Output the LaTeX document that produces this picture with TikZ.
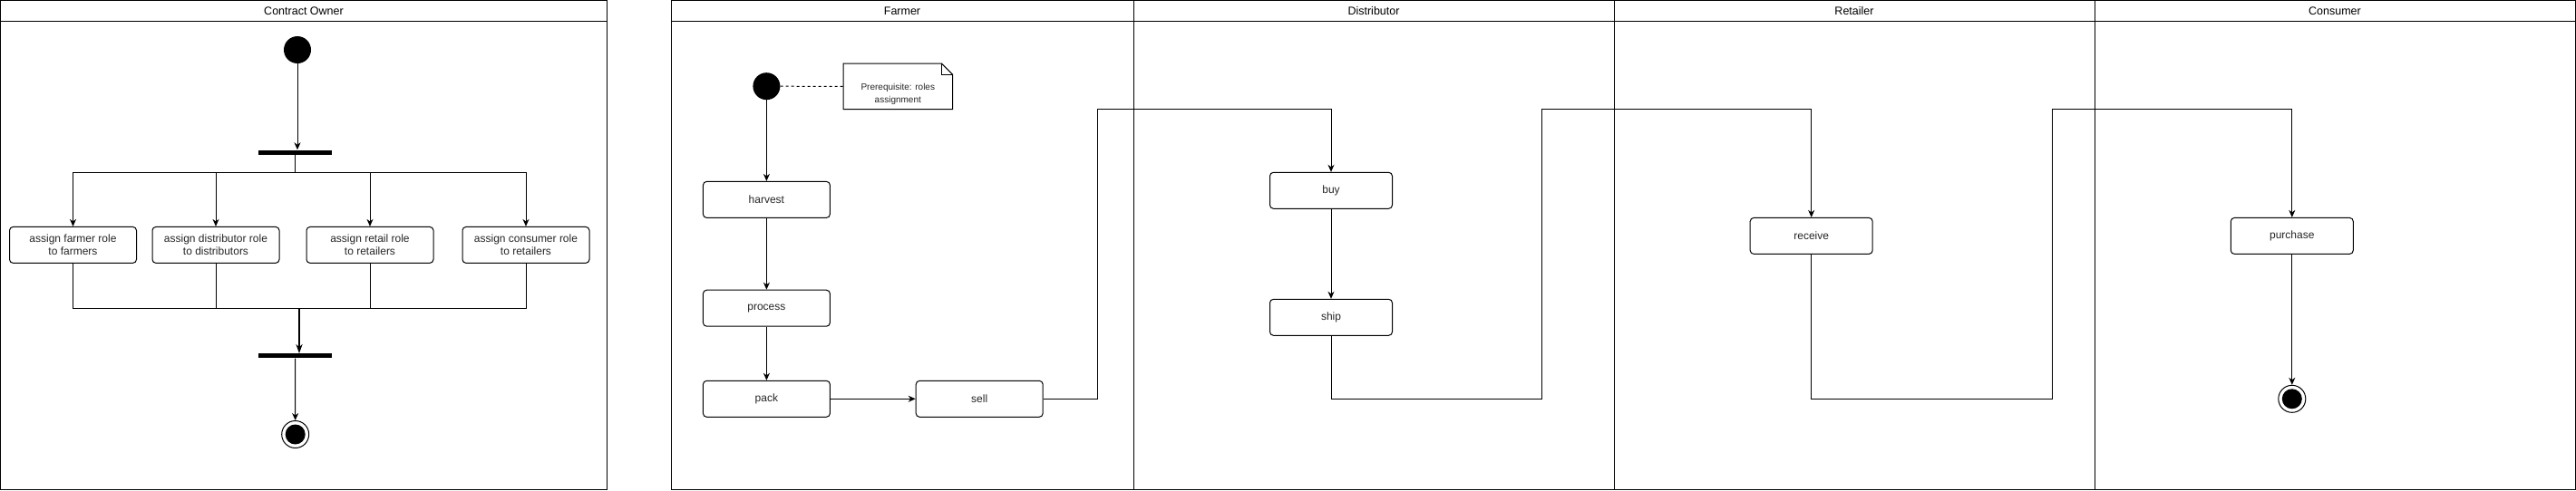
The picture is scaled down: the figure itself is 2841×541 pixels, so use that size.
\documentclass[tikz,border=0pt]{standalone}
\usepackage{fontspec}
\setmainfont{Liberation Sans}
\usetikzlibrary{arrows.meta}
\begin{document}
\begin{tikzpicture}[x=1pt,y=-1pt,
  lane/.style={draw, line width=1.2pt},
  title/.style={font=\fontsize{12.5}{14}\selectfont, inner sep=0pt},
  act/.style={draw, line width=1pt, rounded corners=4pt, minimum width=140pt, minimum height=40pt, align=center, inner sep=0pt, font=\fontsize{12}{14}\selectfont, text=black!85},
  actn/.style={act, minimum width=135pt},
  startnode/.style={circle, fill=black, minimum size=30pt, inner sep=0pt},
  endnode/.style={circle, draw, line width=1pt, fill=white, minimum size=30pt, inner sep=0pt, path picture={\fill[black] (path picture bounding box.center) circle (11pt);}},
  bar/.style={fill=black, minimum width=81pt, minimum height=5pt, inner sep=0pt},
  flow/.style={draw, line width=1pt, -{Stealth[length=8pt,width=7pt,inset=2.5pt]}},
  line/.style={draw, line width=1pt},
  thickflow/.style={draw, line width=2pt, -{Stealth[length=10pt,width=7pt,inset=3pt]}},
  notedash/.style={draw, line width=1pt, dash pattern=on 3pt off 3pt}
]
\useasboundingbox (0,0) rectangle (2841,541);
\fill[white] (0,0) rectangle (2841,541);

% ---------- Contract Owner pool ----------
\draw[lane] (0.6,0.6) rectangle (669.5,540.4);
\draw[lane] (0.6,23.5) -- (669.5,23.5);
\node[title] (tco) at (335,12) {Contract Owner};

% ---------- Big pool with four lanes ----------
\draw[lane] (740.3,0.6) rectangle (2840.4,540.4);
\draw[lane] (740.3,23.5) -- (2840.4,23.5);
\draw[lane] (1250.5,0.6) -- (1250.5,540.4);
\draw[lane] (1780.4,0.6) -- (1780.4,540.4);
\draw[lane] (2310.3,0.6) -- (2310.3,540.4);
\node[title] (tfa) at (995,12) {Farmer};
\node[title] (tdi) at (1515,12) {Distributor};
\node[title] (tre) at (2045,12) {Retailer};
\node[title] (tcu) at (2575,12) {Consumer};

% ---------- Contract Owner nodes ----------
\node[startnode] (s1) at (328,55) {};
\node[bar] (fork) at (325.5,168) {};
\node[act] (a1) at (80.5,270.4) {assign farmer role\\to farmers};
\node[act] (a2) at (238,270.4) {assign distributor role\\to distributors};
\node[act] (a3) at (408,270.4) {assign retail role\\to retailers};
\node[act] (a4) at (580,270.4) {assign consumer role\\to retailers};
\node[bar] (join) at (325.5,392.8) {};
\node[endnode] (e1) at (325.7,479.5) {};
\coordinate (fsplit) at (325.5,190);
\coordinate (jmerge) at (330,340);

\path[flow] (s1) -- (s1 |- fork.north);
\path[line] (fork.south) -- (fsplit);
\path[flow] (fsplit) -| (a1.north);
\path[flow] (fsplit) -| (a2.north);
\path[flow] (fsplit) -| (a3.north);
\path[flow] (fsplit) -| (a4.north);
\path[line] (a1.south) |- (jmerge);
\path[line] (a2.south) |- (jmerge);
\path[line] (a3.south) |- (jmerge);
\path[line] (a4.south) |- (jmerge);
\path[thickflow] (jmerge) -- (jmerge |- join.north);
\path[flow] (join.south) -- (e1.north);

% ---------- Farmer lane ----------
\node[startnode] (s2) at (845.4,95.2) {};
\node[minimum width=120pt, minimum height=50pt, inner sep=0pt,
      label={[font=\fontsize{10}{14.3}\selectfont, align=center, text=black!85, yshift=-8.5pt]center:Prerequisite: roles\\assignment}] (note) at (990.3,95.4) {};
\draw[line width=1pt] (note.north west) -- ([xshift=-12pt]note.north east) -- ([yshift=-12pt]note.north east) -- (note.south east) -- (note.south west) -- cycle;
\draw[line width=1pt] ([xshift=-12pt]note.north east) -- ([xshift=-12pt,yshift=-12pt]note.north east) -- ([yshift=-12pt]note.north east);
\path[notedash] (s2.east) -- (note.west);

\node[act] (harvest) at (845.4,220.4) {harvest};
\node[act] (process) at (845.4,340.2) {process};
\node[act] (pack) at (845.4,440.3) {pack};
\node[act] (sell) at (1080.2,440.3) {sell};
\path[flow] (s2) -- (harvest.north);
\path[flow] (harvest) -- (process);
\path[flow] (process) -- (pack);
\path[flow] (pack) -- (sell);

% ---------- Distributor lane ----------
\node[actn] (buy) at (1468,210.3) {buy};
\node[actn] (ship) at (1468,350.3) {ship};
\path[flow] (buy) -- (ship);

% ---------- Retailer lane ----------
\node[actn] (receive) at (1997.7,260.4) {receive};

% ---------- Consumer lane ----------
\node[actn] (purchase) at (2527.8,260.4) {purchase};
\node[endnode] (e2) at (2527.8,440.3) {};
\path[flow] (purchase) -- (e2.north);

% ---------- cross-lane connectors ----------
\coordinate (c1) at (1210.4,120.4);
\coordinate (c2a) at (1700.7,440.3);
\coordinate (c2b) at (1700.7,120.4);
\coordinate (c3a) at (2263.2,440.3);
\coordinate (c3b) at (2263.2,120.4);
\path[flow] (sell.east) -| (c1) -| (buy.north);
\path[flow] (ship.south) |- (c2a) -- (c2b) -| (receive.north);
\path[flow] (receive.south) |- (c3a) -- (c3b) -| (purchase.north);
\end{tikzpicture}
\end{document}
